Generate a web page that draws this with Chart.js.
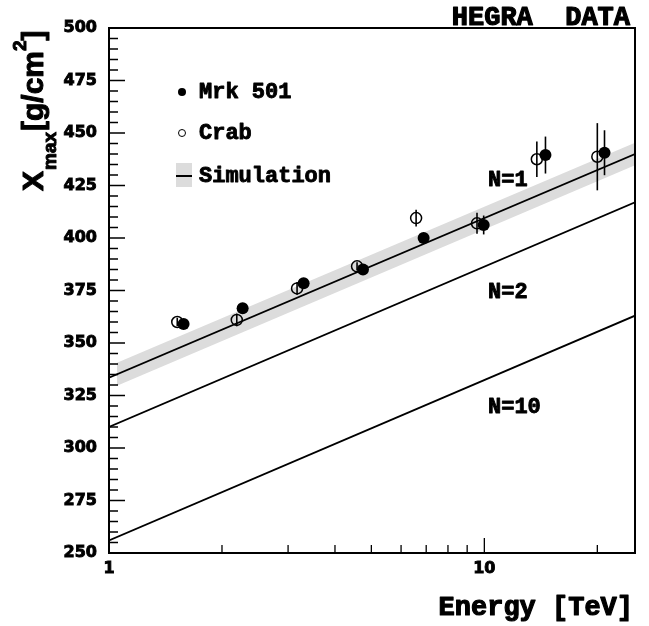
<!DOCTYPE html>
<html>
<head>
<meta charset="utf-8">
<script src="https://cdn.jsdelivr.net/npm/chart.js@4.4.0/dist/chart.umd.min.js"></script>
<style>
  html, body { margin: 0; padding: 0; background: #fff; }
  #wrap { width: 649px; height: 626px; }
</style>
</head>
<body>
<div id="wrap"><canvas id="myChart" width="649" height="626"></canvas></div>
<script>
// Crab (open circles)
const crabEnergy = [1.52, 2.19, 3.17, 4.58, 6.58, 9.56, 13.8, 20.0];
const crabXmax   = [360, 361, 376, 386.5, 409.5, 407, 437.5, 438.7];
const crabErr    = [2, 3, 3, 2, 4, 5, 8.5, 16];

// Mrk 501 (filled circles)
const mrkEnergy = [1.58, 2.27, 3.30, 4.75, 6.89, 9.96, 14.55, 20.9];
const mrkXmax   = [359, 366.5, 378.4, 385, 400, 406.2, 439.5, 440.6];
const mrkErr    = [2, 2, 2, 2, 2, 4.5, 8.8, 10.7];

// Simulation lines, N = 1, 2, 10
const simEnergy = [1, 25.2];
const simN1  = [333.5, 440];
const simN2  = [310, 417];
const simN10 = [256, 363];

// grey band around N=1
const bandEnergy = [1.05, 25.2];
const bandHigh = [340.6, 445.3];
const bandLow  = [329.6, 434.7];

// axis ticks
const xMajorTicks = [1, 10];
const xMinorTicks = [2, 3, 4, 5, 6, 7, 8, 9, 20];
const yMin = 250, yMax = 500, yStep = 25, yMinorStep = 5;

const nLabels = [
  { text: 'N=1',  x: 488, y: 180 },
  { text: 'N=2',  x: 488, y: 292 },
  { text: 'N=10', x: 488, y: 407 }
];

const pts = (xs, ys) => xs.map((x, i) => ({ x: x, y: ys[i] }));

const mono = '"Liberation Mono", "Courier New", monospace';
const sans = '"Liberation Sans", Arial, sans-serif';

// draw text a bit heavier, like the original
function heavyText(ctx, t, x, y, w) {
  ctx.lineWidth = w;
  ctx.lineJoin = 'round';
  ctx.strokeStyle = '#000';
  ctx.strokeText(t, x, y);
  ctx.fillText(t, x, y);
}

const decor = {
  id: 'decor',
  afterDatasetsDraw(chart) {
    const ctx = chart.ctx;
    const xs = chart.scales.x, ys = chart.scales.y;
    ctx.save();
    ctx.strokeStyle = '#000';
    ctx.lineWidth = 1.6;
    const bars = (ex, vy, er) => {
      ex.forEach((e, i) => {
        const px = xs.getPixelForValue(e);
        ctx.beginPath();
        ctx.moveTo(px, ys.getPixelForValue(vy[i] - er[i]));
        ctx.lineTo(px, ys.getPixelForValue(vy[i] + er[i]));
        ctx.stroke();
      });
    };
    bars(crabEnergy, crabXmax, crabErr);
    bars(mrkEnergy, mrkXmax, mrkErr);
    ctx.restore();
  },
  afterDraw(chart) {
    const ctx = chart.ctx;
    const a = chart.chartArea;
    const xs = chart.scales.x, ys = chart.scales.y;
    ctx.save();
    // frame
    ctx.strokeStyle = '#000';
    ctx.lineWidth = 2;
    ctx.strokeRect(a.left, a.top, a.right - a.left, a.bottom - a.top);

    // inward ticks
    ctx.lineWidth = 1.3;
    ctx.beginPath();
    xMajorTicks.forEach(v => {
      const px = xs.getPixelForValue(v);
      ctx.moveTo(px, a.bottom); ctx.lineTo(px, a.bottom - 15);
    });
    xMinorTicks.forEach(v => {
      const px = xs.getPixelForValue(v);
      ctx.moveTo(px, a.bottom); ctx.lineTo(px, a.bottom - 8);
    });
    for (let v = yMin; v <= yMax; v += yMinorStep) {
      const py = ys.getPixelForValue(v);
      const len = (v % yStep === 0) ? 16 : 9;
      ctx.moveTo(a.left, py); ctx.lineTo(a.left + len, py);
    }
    ctx.stroke();

    // texts
    ctx.fillStyle = '#000';
    ctx.textBaseline = 'alphabetic';
    ctx.textAlign = 'right';
    ctx.font = 'bold 27px ' + mono;
    heavyText(ctx, 'HEGRA  DATA', 630, 25, 1.2);
    heavyText(ctx, 'Energy [TeV]', 633, 615, 1.2);

    ctx.textAlign = 'left';
    ctx.textBaseline = 'middle';
    ctx.font = 'bold 22px ' + mono;
    nLabels.forEach(l => heavyText(ctx, l.text, l.x, l.y, 0.9));

    // legend
    heavyText(ctx, 'Mrk 501', 199, 92, 0.9);
    heavyText(ctx, 'Crab', 199, 133, 0.9);
    heavyText(ctx, 'Simulation', 199, 176, 0.9);
    ctx.beginPath();
    ctx.arc(182, 92, 4, 0, Math.PI * 2);
    ctx.fill();
    ctx.lineWidth = 1;
    ctx.beginPath();
    ctx.arc(182, 133, 3.5, 0, Math.PI * 2);
    ctx.stroke();
    ctx.fillStyle = '#dcdcdc';
    ctx.fillRect(176, 163, 16, 24);
    ctx.strokeStyle = '#000';
    ctx.lineWidth = 2;
    ctx.beginPath();
    ctx.moveTo(176, 176); ctx.lineTo(192, 176);
    ctx.stroke();

    // y title, rotated, with sub/superscript
    ctx.fillStyle = '#000';
    ctx.translate(43, 191);
    ctx.rotate(-Math.PI / 2);
    ctx.textBaseline = 'alphabetic';
    ctx.textAlign = 'left';
    let cx = 0;
    const put = (t, size, dy, sp) => {
      ctx.font = 'bold ' + size + 'px ' + sans;
      heavyText(ctx, t, cx, dy, 1);
      cx += ctx.measureText(t).width + (sp || 0);
    };
    put('X', 30, 0, 1);
    put('max', 19, 13, 1);
    put('[g/cm', 30, 0);
    put('2', 19, -17);
    put(']', 30, 0);
    ctx.restore();
  }
};

const ctx = document.getElementById('myChart').getContext('2d');
const myChart = new Chart(ctx, {
  type: 'scatter',
  data: {
    datasets: [
      {
        label: 'band high', data: pts(bandEnergy, bandHigh), showLine: true,
        borderWidth: 0, pointRadius: 0, fill: '+1', backgroundColor: '#dcdcdc', order: 10
      },
      {
        label: 'band low', data: pts(bandEnergy, bandLow), showLine: true,
        borderWidth: 0, pointRadius: 0, fill: false, order: 10
      },
      {
        label: 'N=1', data: pts(simEnergy, simN1), showLine: true,
        borderColor: '#000', borderWidth: 1.8, pointRadius: 0, order: 5
      },
      {
        label: 'N=2', data: pts(simEnergy, simN2), showLine: true,
        borderColor: '#000', borderWidth: 1.8, pointRadius: 0, order: 5
      },
      {
        label: 'N=10', data: pts(simEnergy, simN10), showLine: true,
        borderColor: '#000', borderWidth: 1.8, pointRadius: 0, order: 5
      },
      {
        label: 'Crab', data: pts(crabEnergy, crabXmax),
        pointRadius: 5.5, pointBorderWidth: 1.5, pointBorderColor: '#000',
        pointBackgroundColor: 'rgba(0,0,0,0)', order: 2
      },
      {
        label: 'Mrk 501', data: pts(mrkEnergy, mrkXmax),
        pointRadius: 6, pointBorderWidth: 0, pointBackgroundColor: '#000', order: 1
      }
    ]
  },
  options: {
    responsive: false,
    animation: false,
    layout: { padding: { left: 0, right: 14, top: 28, bottom: 0 } },
    plugins: {
      legend: { display: false },
      tooltip: { enabled: false }
    },
    scales: {
      x: {
        type: 'logarithmic',
        min: 1, max: 25.2,
        grid: { display: false, drawTicks: false },
        border: { display: false },
        ticks: {
          color: '#000', padding: 6, autoSkip: false, maxRotation: 0,
          textStrokeColor: '#000', textStrokeWidth: 0.9,
          font: { family: 'DejaVu Sans', weight: 'bold', size: 16 },
          callback: v => String(v)
        },
        afterBuildTicks: s => { s.ticks = xMajorTicks.map(v => ({ value: v })); },
        afterFit: s => { s.height = 73; }
      },
      y: {
        type: 'linear',
        min: yMin, max: yMax,
        grid: { display: false, drawTicks: false },
        border: { display: false },
        ticks: {
          stepSize: yStep, color: '#000', padding: 12,
          textStrokeColor: '#000', textStrokeWidth: 0.9,
          font: { family: 'DejaVu Sans', weight: 'bold', size: 16 }
        },
        afterFit: s => { s.width = 109; }
      }
    }
  },
  plugins: [decor]
});
</script>
</body>
</html>
